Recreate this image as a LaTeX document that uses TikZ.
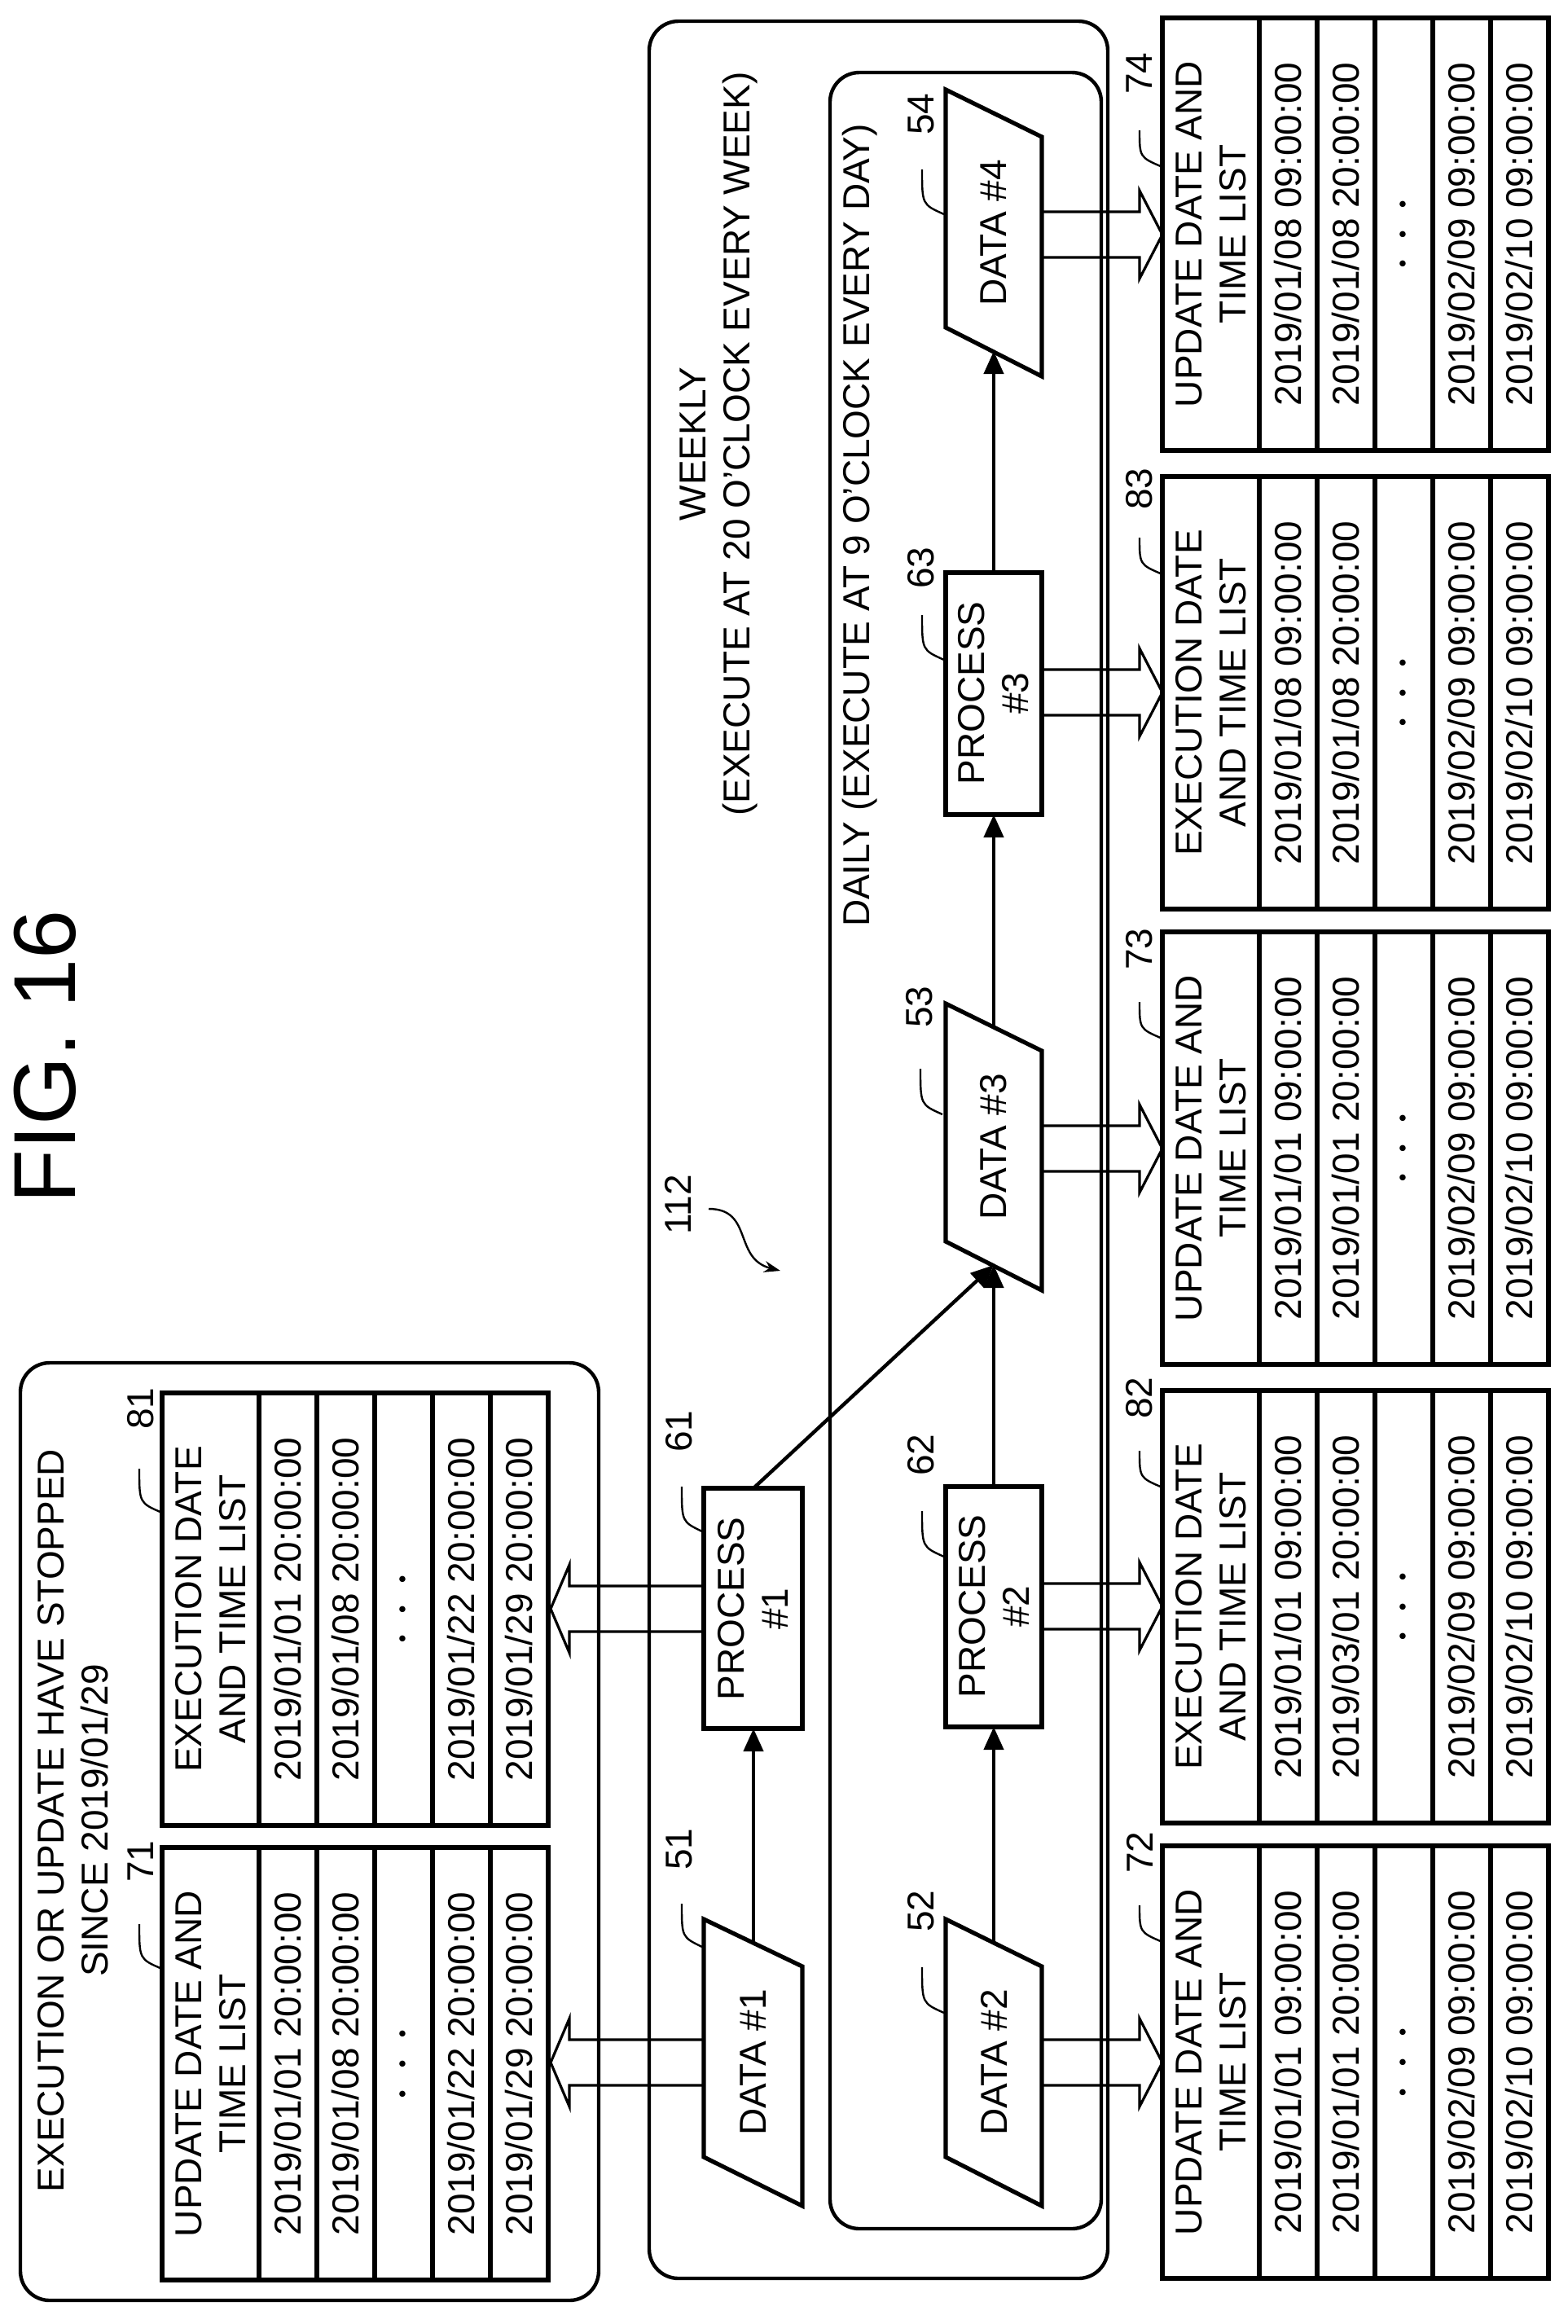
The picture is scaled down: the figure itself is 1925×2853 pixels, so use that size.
\documentclass[tikz,border=0pt]{standalone}
\usepackage{fontspec}
\setmainfont{Liberation Sans}
\usetikzlibrary{arrows.meta}
\newcommand\mytbl[8]{%
 \draw[tl] (#1,#2) rectangle ({#1+474},{#2+531});
 \foreach \c in {119,190,261,332,403} \draw[tl] ({#1+\c},#2) -- ({#1+\c},{#2+531});
 \node[txt] at ({#1+59.5},{#2+265.5}) {#3};
 \node[txt] at ({#1+154.5},{#2+265.5}) {#4};
 \node[txt] at ({#1+225.5},{#2+265.5}) {#5};
 \node[txt] at ({#1+296.5},{#2+265.5}) {#6};
 \node[txt] at ({#1+367.5},{#2+265.5}) {#7};
 \node[txt] at ({#1+438.5},{#2+265.5}) {#8};}
\newcommand\barrow[4]{\draw[ba] (#1,{#4-28}) -- (#2,{#4-28}) -- (#2,{#4-54}) -- (#3,#4) -- (#2,{#4+54}) -- (#2,{#4+28}) -- (#1,{#4+28});}
\newcommand\datan[5]{%
 \draw[nd] (#2,{#4-176}) -- (#3,{#4-118}) -- (#3,{#4+176}) -- (#2,{#4+116}) -- cycle;
 \node[txt] (#1) at ({(#2+#3)/2},#4) {#5};}
\newcommand\lbl[7]{\node[txt] at (#1,#2) {#3};
 \draw[ld] (#4,#5) .. controls (#4,{#7-12}) .. (#6,#7);}
\newcommand\dts{{\boldmath$\cdot\,\cdot\,\cdot$}}
\begin{document}
\begin{tikzpicture}[x=0.25pt,y=-0.25pt,
 txt/.style={rotate=90,align=center,font=\fontsize{11.5}{13.5}\selectfont,inner sep=0pt},
 box/.style={line width=1.1pt,rounded corners=9pt},
 nd/.style={line width=1.3pt},
 tl/.style={line width=1.4pt},
 ba/.style={line width=0.8pt},
 ch/.style={line width=1.1pt,-{Triangle[length=7pt,width=6pt]}},
 ld/.style={line width=0.6pt}]
\useasboundingbox (0,0) rectangle (1925,2853);
\node[txt,font=\fontsize{27}{30}\selectfont] (title) at (55,1297) {FIG. 16};

% left box
\draw[box] (25,1673) rectangle (735,2824);
\node[txt] (stop) at (90,2235) {EXECUTION OR UPDATE HAVE STOPPED\\SINCE 2019/01/29};
\mytbl{199}{1710}{EXECUTION DATE\\AND TIME LIST}{2019/01/01 20:00:00}{2019/01/08 20:00:00}{\dts}{2019/01/22 20:00:00}{2019/01/29 20:00:00}
\mytbl{199}{2268}{UPDATE DATE AND\\TIME LIST}{2019/01/01 20:00:00}{2019/01/08 20:00:00}{\dts}{2019/01/22 20:00:00}{2019/01/29 20:00:00}
\lbl{173}{1729}{81}{171}{1803}{199}{1857}
\lbl{173}{2285}{71}{171}{2362}{199}{2417}

% weekly / daily boxes
\draw[box] (797,26) rectangle (1360,2797);
\draw[box] (1019,89) rectangle (1352,2736);
\node[txt] (weekly) at (882,545) {WEEKLY\\(EXECUTE AT 20 O'CLOCK EVERY WEEK)};
\node[txt] (daily) at (1056,645) {DAILY (EXECUTE AT 9 O'CLOCK EVERY DAY)};
\node[txt] (n112) at (832,1479) {112};
\draw[ld,-{Stealth[length=5pt,width=3.5pt]}] (870,1484) .. controls (925,1484) and (900,1545) .. (958,1560);

% nodes
\draw[nd] (864,1827) rectangle (985,2122);
\node[txt] (p1) at (924.5,1975) {PROCESS\\\#1};
\draw[nd] (1161,1825) rectangle (1279,2120);
\node[txt] (p2) at (1220,1972) {PROCESS\\\#2};
\draw[nd] (1161,703) rectangle (1279,1000);
\node[txt] (p3) at (1220,851) {PROCESS\\\#3};
\datan{d1}{864}{985}{2532}{DATA \#1}
\datan{d2}{1161}{1279}{2532}{DATA \#2}
\datan{d3}{1161}{1279}{1408}{DATA \#3}
\datan{d4}{1161}{1279}{286}{DATA \#4}

\coordinate (d1t) at (925,2385);
\coordinate (p1b) at (925,2122);
\coordinate (p1t) at (925,1827);
\coordinate (d2t) at (1220,2385);
\coordinate (p2b) at (1220,2120);
\coordinate (p2t) at (1220,1825);
\coordinate (d3b) at (1220,1553);
\coordinate (d3t) at (1220,1261);
\coordinate (p3b) at (1220,1000);
\coordinate (p3t) at (1220,703);
\coordinate (d4b) at (1220,431);
\draw[ch] (d1t) -- (p1b);
\draw[ch] (d2t) -- (p2b);
\draw[ch] (p2t) -- (d3b);
\draw[ch] (p1t) -- (d3b);
\draw[ch] (d3t) -- (p3b);
\draw[ch] (p3t) -- (d4b);

\lbl{834}{1757}{61}{837}{1825}{862}{1880}
\lbl{834}{2270}{51}{837}{2337}{862}{2390}
\lbl{1131}{1786}{62}{1132}{1855}{1159}{1911}
\lbl{1131}{2346}{52}{1132}{2415}{1159}{2471}
\lbl{1129}{1236}{53}{1130}{1312}{1157}{1368}
\lbl{1131}{697}{63}{1132}{755}{1159}{810}
\lbl{1131}{140}{54}{1132}{208}{1159}{263}

% big arrows
\barrow{864}{699}{676}{1975}
\barrow{864}{699}{676}{2532}
\barrow{1279}{1399}{1427}{288}
\barrow{1279}{1399}{1427}{850}
\barrow{1279}{1399}{1427}{1410}
\barrow{1279}{1399}{1427}{1972}
\barrow{1279}{1399}{1427}{2532}

% right tables
\mytbl{1427}{22}{UPDATE DATE AND\\TIME LIST}{2019/01/08 09:00:00}{2019/01/08 20:00:00}{\dts}{2019/02/09 09:00:00}{2019/02/10 09:00:00}
\mytbl{1427}{585}{EXECUTION DATE\\AND TIME LIST}{2019/01/08 09:00:00}{2019/01/08 20:00:00}{\dts}{2019/02/09 09:00:00}{2019/02/10 09:00:00}
\mytbl{1427}{1144}{UPDATE DATE AND\\TIME LIST}{2019/01/01 09:00:00}{2019/01/01 20:00:00}{\dts}{2019/02/09 09:00:00}{2019/02/10 09:00:00}
\mytbl{1427}{1707}{EXECUTION DATE\\AND TIME LIST}{2019/01/01 09:00:00}{2019/03/01 20:00:00}{\dts}{2019/02/09 09:00:00}{2019/02/10 09:00:00}
\mytbl{1427}{2266}{UPDATE DATE AND\\TIME LIST}{2019/01/01 09:00:00}{2019/01/01 20:00:00}{\dts}{2019/02/09 09:00:00}{2019/02/10 09:00:00}
\lbl{1399}{90}{74}{1399}{160}{1427}{205}
\lbl{1399}{600}{83}{1399}{660}{1427}{705}
\lbl{1399}{1165}{73}{1399}{1230}{1427}{1275}
\lbl{1399}{1716}{82}{1399}{1781}{1427}{1826}
\lbl{1399}{2274}{72}{1399}{2339}{1427}{2384}
\end{tikzpicture}
\end{document}
